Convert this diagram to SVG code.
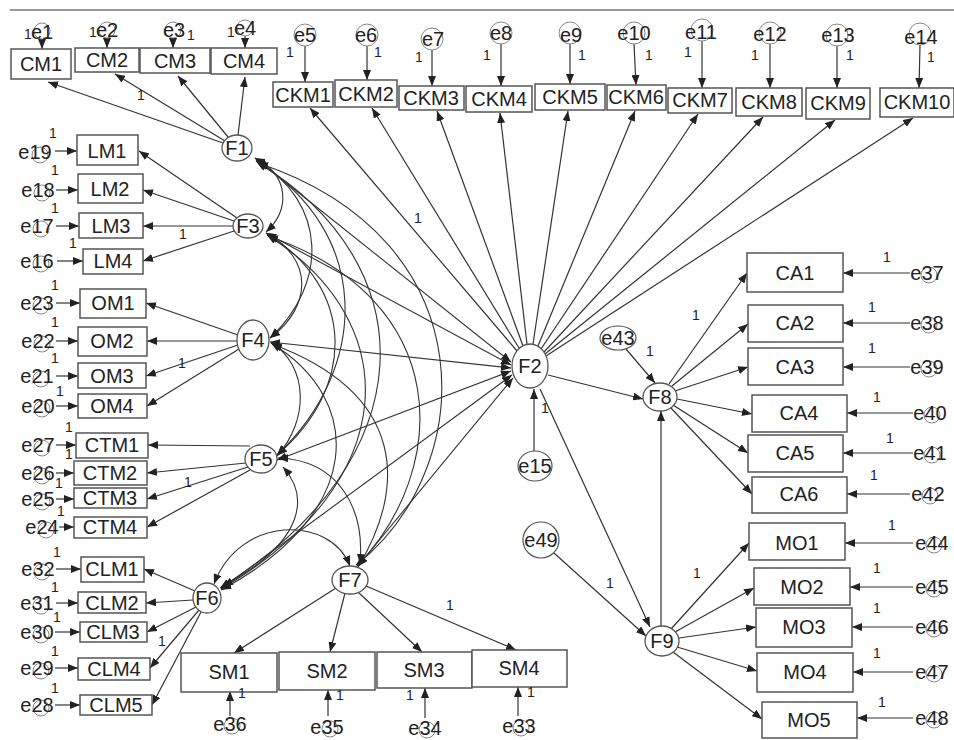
<svg xmlns="http://www.w3.org/2000/svg" width="954" height="740" viewBox="0 0 954 740">
<style>
text{font-family:"Liberation Sans",Arial,sans-serif;fill:#222;text-anchor:middle}
.t{font-size:20px}
.o{font-size:14px}
.bx{fill:#fff;stroke:#555;stroke-width:1.5}
.fc{fill:#fff;stroke:#555;stroke-width:1.3}
.ec{fill:none;stroke:#888;stroke-width:1}
.ee{fill:#fff;stroke:#555;stroke-width:1.2}
.ln{fill:none;stroke:#333;stroke-width:1.2;marker-end:url(#ah)}
.cv{fill:none;stroke:#333;stroke-width:1.1;marker-start:url(#ah);marker-end:url(#ah)}
</style>
<defs>
<marker id="ah" viewBox="0 0 10 8" refX="10" refY="4" markerWidth="10" markerHeight="8" markerUnits="userSpaceOnUse" orient="auto-start-reverse"><path d="M0,0L10,4L0,8z" fill="#222"/></marker>
</defs>
<rect width="954" height="740" fill="#fff"/>
<line x1="10" y1="10" x2="954" y2="10" stroke="#999" stroke-width="2"/>
<g id="connectors">
<path class="ln" d="M223,143L48,82"/>
<path class="ln" d="M225,141L115,74"/>
<path class="ln" d="M228,137L178,76"/>
<path class="ln" d="M238,135L245,77"/>
<path class="ln" d="M42,39L42,49"/>
<path class="ln" d="M107,38L107,48"/>
<path class="ln" d="M173,38L173,48"/>
<path class="ln" d="M245,36L245,48"/>
<path class="ln" d="M305,46L305,82"/>
<path class="ln" d="M367,46L367,80"/>
<path class="ln" d="M432,50L432,86"/>
<path class="ln" d="M501,44L501,86"/>
<path class="ln" d="M570,44L570,84"/>
<path class="ln" d="M634,44L636,85"/>
<path class="ln" d="M702,41L702,88"/>
<path class="ln" d="M770,44L770,88"/>
<path class="ln" d="M837,46L837,88"/>
<path class="ln" d="M920,45L919,88"/>
<path class="ln" d="M517,351L310,108"/>
<path class="ln" d="M519,348L372,108"/>
<path class="ln" d="M523,346L437,111"/>
<path class="ln" d="M527,344L500,113"/>
<path class="ln" d="M533,344L568,111"/>
<path class="ln" d="M538,346L635,111"/>
<path class="ln" d="M541,349L698,114"/>
<path class="ln" d="M544,352L763,117"/>
<path class="ln" d="M545,354L835,120"/>
<path class="ln" d="M546,356L913,118"/>
<path class="ln" d="M55,151L77,151"/>
<path class="ln" d="M56,190L78,190"/>
<path class="ln" d="M56,226L79,226"/>
<path class="ln" d="M57,261L83,261"/>
<path class="ln" d="M56,303L80,303"/>
<path class="ln" d="M56,341L78,341"/>
<path class="ln" d="M56,376L78,376"/>
<path class="ln" d="M56,406L78,406"/>
<path class="ln" d="M56,445L76,445"/>
<path class="ln" d="M56,473L74,473"/>
<path class="ln" d="M56,499L74,499"/>
<path class="ln" d="M59,527L74,527"/>
<path class="ln" d="M56,569L81,569"/>
<path class="ln" d="M56,603L78,603"/>
<path class="ln" d="M55,632L80,632"/>
<path class="ln" d="M55,668L78,668"/>
<path class="ln" d="M55,705L80,705"/>
<path class="ln" d="M237,218L139,151"/>
<path class="ln" d="M234,221L143,190"/>
<path class="ln" d="M233,226L143,226"/>
<path class="ln" d="M234,231L143,261"/>
<path class="ln" d="M238,335L146,303"/>
<path class="ln" d="M237,341L147,341"/>
<path class="ln" d="M238,345L146,376"/>
<path class="ln" d="M239,349L147,406"/>
<path class="ln" d="M250,446L148,445"/>
<path class="ln" d="M246,463L147,473"/>
<path class="ln" d="M248,467L147,499"/>
<path class="ln" d="M250,470L147,527"/>
<path class="ln" d="M195,591L144,569"/>
<path class="ln" d="M193,600L146,603"/>
<path class="ln" d="M196,607L147,632"/>
<path class="ln" d="M199,610L150,668"/>
<path class="ln" d="M201,612L152,705"/>
<path class="ln" d="M336,588L234,653"/>
<path class="ln" d="M345,593L330,652"/>
<path class="ln" d="M358,592L422,652"/>
<path class="ln" d="M366,586L516,650"/>
<path class="ln" d="M230,716L230,691"/>
<path class="ln" d="M328,716L328,690"/>
<path class="ln" d="M425,718L425,688"/>
<path class="ln" d="M518,716L518,687"/>
<path class="ln" d="M669,384L747,273"/>
<path class="ln" d="M672,386L748,324"/>
<path class="ln" d="M675,391L748,367"/>
<path class="ln" d="M677,399L752,414"/>
<path class="ln" d="M673,405L748,453"/>
<path class="ln" d="M670,407L752,494"/>
<path class="ln" d="M910,273L843,273"/>
<path class="ln" d="M910,323L843,323"/>
<path class="ln" d="M910,367L843,367"/>
<path class="ln" d="M913,413L847,413"/>
<path class="ln" d="M913,453L843,453"/>
<path class="ln" d="M910,494L847,494"/>
<path class="ln" d="M671,629L749,543"/>
<path class="ln" d="M675,632L754,588"/>
<path class="ln" d="M679,638L756,627"/>
<path class="ln" d="M677,647L757,671"/>
<path class="ln" d="M673,652L762,719"/>
<path class="ln" d="M913,543L845,543"/>
<path class="ln" d="M913,587L850,587"/>
<path class="ln" d="M913,627L852,627"/>
<path class="ln" d="M913,672L853,672"/>
<path class="ln" d="M913,718L857,718"/>
<path class="ln" d="M626,349L655,383"/>
<path class="ln" d="M548,375L643,399"/>
<path class="ln" d="M534,451L534,389"/>
<path class="ln" d="M540,389L650,627"/>
<path class="ln" d="M554,553L646,636"/>
<path class="ln" d="M661,626L661,411"/>
<path class="cv" d="M511,362L255,158"/>
<path class="cv" d="M511,365L266,233"/>
<path class="cv" d="M511,368L270,342"/>
<path class="cv" d="M511,371L277,460"/>
<path class="cv" d="M512,375L221,589"/>
<path class="cv" d="M513,378L358,566"/>
<path class="cv" d="M255,158C290,176 290,210 266,232"/>
<path class="cv" d="M256,160C328,203 328,284 270,338"/>
<path class="cv" d="M256,161C371,232 371,366 277,455"/>
<path class="cv" d="M257,162C427,265 427,459 220,588"/>
<path class="cv" d="M258,163C490,240 478,470 356,565"/>
<path class="cv" d="M266,233C313,258 313,306 270,338"/>
<path class="cv" d="M267,234C356,288 356,388 277,455"/>
<path class="cv" d="M267,235C405,321 405,481 221,589"/>
<path class="cv" d="M268,236C455,300 450,470 357,566"/>
<path class="cv" d="M271,342C309,367 309,420 277,456"/>
<path class="cv" d="M271,343C365,400 365,513 221,590"/>
<path class="cv" d="M272,344C409,395 405,490 358,567"/>
<path class="cv" d="M283,467C308,495 308,540 223,586"/>
<path class="cv" d="M278,458C340,460 365,510 360,564"/>
<path class="cv" d="M214,584C240,515 330,515 350,566"/>
</g>
<g id="loading-labels">
<text class="o" x="141" y="100">1</text>
<text class="o" x="418" y="223">1</text>
<text class="o" x="183" y="239">1</text>
<text class="o" x="182" y="368">1</text>
<text class="o" x="188" y="487">1</text>
<text class="o" x="162" y="646">1</text>
<text class="o" x="450" y="610">1</text>
<text class="o" x="696" y="320">1</text>
<text class="o" x="697" y="578">1</text>
<text class="o" x="650" y="356">1</text>
<text class="o" x="545" y="413">1</text>
<text class="o" x="610" y="588">1</text>
</g>
<g id="CM1"><rect class="bx" x="11" y="49" width="60" height="30"/><text class="t" x="41" y="71">CM1</text></g>
<g id="CM2"><rect class="bx" x="75" y="48" width="64" height="24"/><text class="t" x="107" y="67">CM2</text></g>
<g id="CM3"><rect class="bx" x="140" y="48" width="70" height="25"/><text class="t" x="175" y="68">CM3</text></g>
<g id="CM4"><rect class="bx" x="211" y="48" width="66" height="26"/><text class="t" x="244" y="68">CM4</text></g>
<g id="e1"><circle class="ec" cx="42" cy="31" r="8"/><text class="t" x="42" y="39">e1</text><text class="o" x="28" y="39">1</text></g>
<g id="e2"><circle class="ec" cx="107" cy="30" r="8"/><text class="t" x="107" y="37">e2</text><text class="o" x="93" y="37">1</text></g>
<g id="e3"><circle class="ec" cx="173" cy="30" r="8"/><text class="t" x="174" y="37">e3</text><text class="o" x="191" y="40">1</text></g>
<g id="e4"><circle class="ec" cx="245" cy="28" r="8"/><text class="t" x="245" y="35">e4</text><text class="o" x="231" y="37">1</text></g>
<g id="CKM1"><rect class="bx" x="273" y="82" width="60" height="25"/><text class="t" x="303" y="102">CKM1</text></g>
<g id="CKM2"><rect class="bx" x="335" y="80" width="62" height="27"/><text class="t" x="366" y="101">CKM2</text></g>
<g id="CKM3"><rect class="bx" x="399" y="86" width="65" height="24"/><text class="t" x="431" y="105">CKM3</text></g>
<g id="CKM4"><rect class="bx" x="466" y="86" width="66" height="26"/><text class="t" x="499" y="106">CKM4</text></g>
<g id="CKM5"><rect class="bx" x="535" y="84" width="70" height="26"/><text class="t" x="570" y="104">CKM5</text></g>
<g id="CKM6"><rect class="bx" x="607" y="85" width="59" height="25"/><text class="t" x="636" y="104">CKM6</text></g>
<g id="CKM7"><rect class="bx" x="668" y="88" width="64" height="25"/><text class="t" x="700" y="107">CKM7</text></g>
<g id="CKM8"><rect class="bx" x="736" y="88" width="66" height="28"/><text class="t" x="769" y="109">CKM8</text></g>
<g id="CKM9"><rect class="bx" x="806" y="88" width="64" height="31"/><text class="t" x="838" y="110">CKM9</text></g>
<g id="CKM10"><rect class="bx" x="880" y="88" width="74" height="29"/><text class="t" x="917" y="109">CKM10</text></g>
<g id="e5"><circle class="ec" cx="305" cy="35" r="11"/><text class="t" x="305" y="42">e5</text><text class="o" x="290" y="57">1</text></g>
<g id="e6"><circle class="ec" cx="367" cy="35" r="11"/><text class="t" x="366" y="42">e6</text><text class="o" x="378" y="57">1</text></g>
<g id="e7"><circle class="ec" cx="432" cy="39" r="11"/><text class="t" x="433" y="46">e7</text><text class="o" x="419" y="62">1</text></g>
<g id="e8"><circle class="ec" cx="501" cy="33" r="11"/><text class="t" x="501" y="40">e8</text><text class="o" x="487" y="60">1</text></g>
<g id="e9"><circle class="ec" cx="570" cy="33" r="11"/><text class="t" x="571" y="42">e9</text><text class="o" x="582" y="60">1</text></g>
<g id="e10"><circle class="ec" cx="634" cy="33" r="11"/><text class="t" x="634" y="40">e10</text><text class="o" x="649" y="60">1</text></g>
<g id="e11"><circle class="ec" cx="702" cy="30" r="11"/><text class="t" x="701" y="39">e11</text><text class="o" x="688" y="57">1</text></g>
<g id="e12"><circle class="ec" cx="770" cy="33" r="11"/><text class="t" x="770" y="41">e12</text><text class="o" x="755" y="60">1</text></g>
<g id="e13"><circle class="ec" cx="837" cy="35" r="11"/><text class="t" x="838" y="42">e13</text><text class="o" x="850" y="60">1</text></g>
<g id="e14"><circle class="ec" cx="920" cy="34" r="11"/><text class="t" x="921" y="44">e14</text><text class="o" x="931" y="62">1</text></g>
<g id="LM1"><rect class="bx" x="77" y="135" width="61" height="30"/><text class="t" x="107" y="158">LM1</text></g>
<g id="LM2"><rect class="bx" x="78" y="174" width="65" height="29"/><text class="t" x="110" y="196">LM2</text></g>
<g id="LM3"><rect class="bx" x="79" y="213" width="64" height="25"/><text class="t" x="111" y="233">LM3</text></g>
<g id="LM4"><rect class="bx" x="83" y="249" width="60" height="25"/><text class="t" x="113" y="268">LM4</text></g>
<g id="OM1"><rect class="bx" x="80" y="289" width="66" height="29"/><text class="t" x="113" y="310">OM1</text></g>
<g id="OM2"><rect class="bx" x="78" y="327" width="69" height="29"/><text class="t" x="112" y="348">OM2</text></g>
<g id="OM3"><rect class="bx" x="78" y="363" width="68" height="25"/><text class="t" x="112" y="383">OM3</text></g>
<g id="OM4"><rect class="bx" x="78" y="394" width="69" height="24"/><text class="t" x="112" y="413">OM4</text></g>
<g id="CTM1"><rect class="bx" x="76" y="433" width="72" height="25"/><text class="t" x="112" y="452">CTM1</text></g>
<g id="CTM2"><rect class="bx" x="74" y="461" width="73" height="24"/><text class="t" x="110" y="480">CTM2</text></g>
<g id="CTM3"><rect class="bx" x="74" y="488" width="73" height="20"/><text class="t" x="110" y="505">CTM3</text></g>
<g id="CTM4"><rect class="bx" x="74" y="517" width="73" height="21"/><text class="t" x="110" y="534">CTM4</text></g>
<g id="CLM1"><rect class="bx" x="81" y="557" width="63" height="25"/><text class="t" x="112" y="576">CLM1</text></g>
<g id="CLM2"><rect class="bx" x="78" y="592" width="68" height="21"/><text class="t" x="112" y="610">CLM2</text></g>
<g id="CLM3"><rect class="bx" x="80" y="622" width="67" height="20"/><text class="t" x="113" y="639">CLM3</text></g>
<g id="CLM4"><rect class="bx" x="78" y="658" width="72" height="22"/><text class="t" x="114" y="676">CLM4</text></g>
<g id="CLM5"><rect class="bx" x="80" y="695" width="72" height="20"/><text class="t" x="116" y="712">CLM5</text></g>
<g id="e19"><circle class="ec" cx="40" cy="155" r="8"/><text class="t" x="35" y="159">e19</text><text class="o" x="53" y="138">1</text></g>
<g id="e18"><circle class="ec" cx="42" cy="193" r="8"/><text class="t" x="38" y="197">e18</text><text class="o" x="55" y="175">1</text></g>
<g id="e17"><circle class="ec" cx="41" cy="229" r="8"/><text class="t" x="37" y="233">e17</text><text class="o" x="55" y="213">1</text></g>
<g id="e16"><circle class="ec" cx="41" cy="264" r="8"/><text class="t" x="37" y="268">e16</text><text class="o" x="73" y="248">1</text></g>
<g id="e23"><circle class="ec" cx="41" cy="306" r="8"/><text class="t" x="37" y="310">e23</text><text class="o" x="55" y="290">1</text></g>
<g id="e22"><circle class="ec" cx="42" cy="344" r="8"/><text class="t" x="38" y="348">e22</text><text class="o" x="55" y="327">1</text></g>
<g id="e21"><circle class="ec" cx="41" cy="379" r="8"/><text class="t" x="37" y="383">e21</text><text class="o" x="55" y="363">1</text></g>
<g id="e20"><circle class="ec" cx="42" cy="409" r="8"/><text class="t" x="38" y="413">e20</text><text class="o" x="60" y="396">1</text></g>
<g id="e27"><circle class="ec" cx="42" cy="448" r="8"/><text class="t" x="38" y="452">e27</text><text class="o" x="69" y="432">1</text></g>
<g id="e26"><circle class="ec" cx="42" cy="476" r="8"/><text class="t" x="38" y="480">e26</text><text class="o" x="69" y="459">1</text></g>
<g id="e25"><circle class="ec" cx="42" cy="502" r="8"/><text class="t" x="38" y="506">e25</text><text class="o" x="59" y="488">1</text></g>
<g id="e24"><circle class="ec" cx="46" cy="530" r="8"/><text class="t" x="42" y="534">e24</text><text class="o" x="61" y="516">1</text></g>
<g id="e32"><circle class="ec" cx="42" cy="572" r="8"/><text class="t" x="38" y="576">e32</text><text class="o" x="57" y="557">1</text></g>
<g id="e31"><circle class="ec" cx="41" cy="606" r="8"/><text class="t" x="37" y="610">e31</text><text class="o" x="55" y="592">1</text></g>
<g id="e30"><circle class="ec" cx="41" cy="635" r="8"/><text class="t" x="37" y="639">e30</text><text class="o" x="57" y="622">1</text></g>
<g id="e29"><circle class="ec" cx="41" cy="671" r="8"/><text class="t" x="37" y="675">e29</text><text class="o" x="55" y="656">1</text></g>
<g id="e28"><circle class="ec" cx="41" cy="708" r="8"/><text class="t" x="37" y="712">e28</text><text class="o" x="55" y="693">1</text></g>
<g id="SM1"><rect class="bx" x="181" y="653" width="96" height="39"/><text class="t" x="229" y="679">SM1</text></g>
<g id="SM2"><rect class="bx" x="279" y="652" width="96" height="38"/><text class="t" x="327" y="678">SM2</text></g>
<g id="SM3"><rect class="bx" x="377" y="652" width="95" height="36"/><text class="t" x="424" y="677">SM3</text></g>
<g id="SM4"><rect class="bx" x="472" y="650" width="95" height="37"/><text class="t" x="519" y="675">SM4</text></g>
<g id="e36"><circle class="ec" cx="232" cy="726" r="8"/><text class="t" x="230" y="731">e36</text><text class="o" x="242" y="698">1</text></g>
<g id="e35"><circle class="ec" cx="330" cy="729" r="8"/><text class="t" x="327" y="734">e35</text><text class="o" x="340" y="700">1</text></g>
<g id="e34"><circle class="ec" cx="427" cy="730" r="8"/><text class="t" x="425" y="735">e34</text><text class="o" x="410" y="700">1</text></g>
<g id="e33"><circle class="ec" cx="521" cy="728" r="8"/><text class="t" x="519" y="733">e33</text><text class="o" x="531" y="697">1</text></g>
<g id="CA1"><rect class="bx" x="747" y="253" width="96" height="39"/><text class="t" x="795" y="280">CA1</text></g>
<g id="CA2"><rect class="bx" x="748" y="305" width="95" height="37"/><text class="t" x="795" y="330">CA2</text></g>
<g id="CA3"><rect class="bx" x="748" y="348" width="95" height="37"/><text class="t" x="795" y="374">CA3</text></g>
<g id="CA4"><rect class="bx" x="752" y="395" width="95" height="37"/><text class="t" x="799" y="420">CA4</text></g>
<g id="CA5"><rect class="bx" x="748" y="435" width="95" height="37"/><text class="t" x="795" y="460">CA5</text></g>
<g id="CA6"><rect class="bx" x="752" y="477" width="95" height="36"/><text class="t" x="799" y="501">CA6</text></g>
<g id="e37"><circle class="ec" cx="929" cy="275" r="8"/><text class="t" x="927" y="280">e37</text><text class="o" x="887" y="262">1</text></g>
<g id="e38"><circle class="ec" cx="929" cy="325" r="8"/><text class="t" x="927" y="330">e38</text><text class="o" x="872" y="312">1</text></g>
<g id="e39"><circle class="ec" cx="929" cy="369" r="8"/><text class="t" x="927" y="374">e39</text><text class="o" x="872" y="353">1</text></g>
<g id="e40"><circle class="ec" cx="932" cy="415" r="8"/><text class="t" x="930" y="420">e40</text><text class="o" x="877" y="402">1</text></g>
<g id="e41"><circle class="ec" cx="932" cy="455" r="8"/><text class="t" x="930" y="460">e41</text><text class="o" x="890" y="443">1</text></g>
<g id="e42"><circle class="ec" cx="930" cy="496" r="8"/><text class="t" x="928" y="501">e42</text><text class="o" x="874" y="480">1</text></g>
<g id="MO1"><rect class="bx" x="749" y="523" width="96" height="37"/><text class="t" x="797" y="550">MO1</text></g>
<g id="MO2"><rect class="bx" x="754" y="568" width="96" height="37"/><text class="t" x="802" y="594">MO2</text></g>
<g id="MO3"><rect class="bx" x="756" y="608" width="96" height="39"/><text class="t" x="804" y="634">MO3</text></g>
<g id="MO4"><rect class="bx" x="757" y="653" width="96" height="39"/><text class="t" x="805" y="679">MO4</text></g>
<g id="MO5"><rect class="bx" x="762" y="702" width="95" height="36"/><text class="t" x="809" y="727">MO5</text></g>
<g id="e44"><circle class="ec" cx="934" cy="545" r="8"/><text class="t" x="932" y="550">e44</text><text class="o" x="892" y="530">1</text></g>
<g id="e45"><circle class="ec" cx="934" cy="589" r="8"/><text class="t" x="932" y="594">e45</text><text class="o" x="877" y="573">1</text></g>
<g id="e46"><circle class="ec" cx="934" cy="629" r="8"/><text class="t" x="932" y="634">e46</text><text class="o" x="877" y="613">1</text></g>
<g id="e47"><circle class="ec" cx="934" cy="674" r="8"/><text class="t" x="932" y="679">e47</text><text class="o" x="877" y="658">1</text></g>
<g id="e48"><circle class="ec" cx="934" cy="720" r="8"/><text class="t" x="932" y="725">e48</text><text class="o" x="882" y="707">1</text></g>
<g id="F1"><ellipse class="fc" cx="237" cy="148" rx="15" ry="13"/><text class="t" x="237" y="155">F1</text></g>
<g id="F3"><ellipse class="fc" cx="248" cy="226" rx="15" ry="12"/><text class="t" x="248" y="233">F3</text></g>
<g id="F4"><ellipse class="fc" cx="253" cy="340" rx="16" ry="20"/><text class="t" x="253" y="347">F4</text></g>
<g id="F5"><ellipse class="fc" cx="261" cy="459" rx="16" ry="14"/><text class="t" x="261" y="466">F5</text></g>
<g id="F6"><ellipse class="fc" cx="207" cy="598" rx="14" ry="15"/><text class="t" x="207" y="605">F6</text></g>
<g id="F7"><ellipse class="fc" cx="350" cy="580" rx="18" ry="14"/><text class="t" x="350" y="587">F7</text></g>
<g id="F2"><ellipse class="fc" cx="530" cy="366" rx="18" ry="22"/><text class="t" x="530" y="373">F2</text></g>
<g id="F8"><ellipse class="fc" cx="660" cy="397" rx="17" ry="14"/><text class="t" x="660" y="404">F8</text></g>
<g id="F9"><ellipse class="fc" cx="662" cy="641" rx="17" ry="15"/><text class="t" x="662" y="648">F9</text></g>
<g id="e15"><ellipse class="ee" cx="535" cy="466" rx="17" ry="15"/><text class="t" x="535" y="473">e15</text></g>
<g id="e43"><ellipse class="ee" cx="618" cy="338" rx="18" ry="12"/><text class="t" x="618" y="345">e43</text></g>
<g id="e49"><circle class="ee" cx="541" cy="540" r="18"/><text class="t" x="541" y="547">e49</text></g>
</svg>
